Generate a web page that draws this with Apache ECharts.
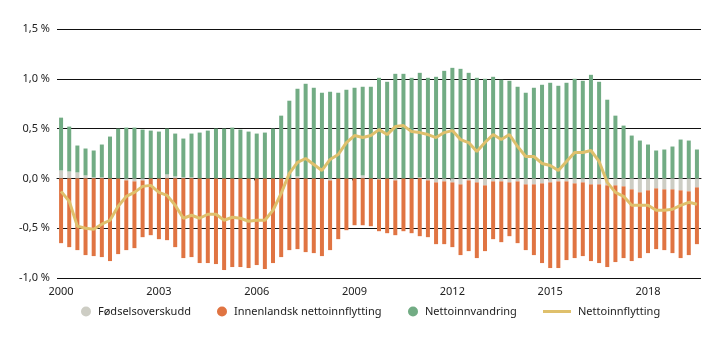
<!DOCTYPE html>
<html>
<head>
<meta charset="utf-8">
<script src="https://cdn.jsdelivr.net/npm/echarts@6/dist/echarts.min.js"></script>
<style>
html,body{margin:0;padding:0;background:#fff;}
#chart{width:719px;height:341px;}
</style>
</head>
<body>
<div id="chart"></div>
<script>
// Quarterly data 2000K1 – 2019K3, percent
const years = [2000,2001,2002,2003,2004,2005,2006,2007,2008,2009,2010,2011,2012,2013,2014,2015,2016,2017,2018,2019];
const quarters = [];
years.forEach(y => { for (let q = 1; q <= 4; q++) quarters.push(y + 'K' + q); });
quarters.length = 79;

const yearTicks = [2000, 2003, 2006, 2009, 2012, 2015, 2018];

const fodselsoverskudd = [0.08,0.07,0.06,0.03,0.01,0.01,0,0,-0.02,-0.03,-0.02,0,
 0,0.04,0.02,0.01,0.01,0,0,0,0,0,0,0,
 0,0,0,0,0,0.02,0,0,0,-0.02,0,0,
 0,0.03,0,-0.01,0,-0.02,0,0,0.01,-0.02,-0.04,-0.03,
 -0.04,-0.06,-0.02,-0.04,-0.07,-0.03,-0.03,-0.04,-0.03,-0.06,-0.06,-0.05,
 -0.04,-0.03,-0.03,-0.05,-0.04,-0.06,-0.06,-0.07,-0.07,-0.08,-0.11,-0.14,
 -0.12,-0.10,-0.11,-0.11,-0.12,-0.13,-0.09];

const innenlandsk = [-0.65,-0.69,-0.72,-0.77,-0.78,-0.79,-0.83,-0.76,-0.70,-0.67,-0.57,-0.57,
 -0.61,-0.62,-0.69,-0.80,-0.79,-0.85,-0.85,-0.86,-0.92,-0.89,-0.89,-0.90,
 -0.87,-0.91,-0.85,-0.79,-0.72,-0.71,-0.74,-0.75,-0.78,-0.70,-0.61,-0.52,
 -0.47,-0.47,-0.48,-0.52,-0.55,-0.55,-0.53,-0.55,-0.58,-0.57,-0.62,-0.63,
 -0.65,-0.71,-0.71,-0.76,-0.66,-0.58,-0.61,-0.54,-0.62,-0.66,-0.71,-0.80,
 -0.86,-0.87,-0.79,-0.75,-0.74,-0.77,-0.79,-0.82,-0.77,-0.72,-0.72,-0.66,
 -0.63,-0.61,-0.61,-0.64,-0.68,-0.64,-0.57];

const nettoinnvandring = [0.53,0.45,0.27,0.27,0.27,0.33,0.42,0.50,0.51,0.51,0.49,0.48,
 0.47,0.46,0.43,0.39,0.44,0.46,0.48,0.50,0.50,0.51,0.49,0.47,
 0.45,0.46,0.50,0.63,0.78,0.88,0.95,0.91,0.86,0.87,0.86,0.89,
 0.91,0.89,0.92,1.01,0.97,1.05,1.05,1.01,1.05,1.01,1.02,1.08,
 1.11,1.10,1.06,1.01,1.00,1.02,0.99,0.98,0.92,0.86,0.91,0.94,
 0.96,0.93,0.96,1.00,0.98,1.04,0.97,0.79,0.63,0.53,0.43,0.38,
 0.34,0.28,0.29,0.32,0.39,0.38,0.29];

const nettoinnflytting = [-0.13,-0.23,-0.48,-0.50,-0.51,-0.46,-0.42,-0.28,-0.18,-0.14,-0.08,-0.07,
 -0.14,-0.17,-0.27,-0.40,-0.37,-0.40,-0.36,-0.36,-0.42,-0.39,-0.40,-0.43,
 -0.42,-0.42,-0.32,-0.15,0.05,0.16,0.20,0.14,0.08,0.19,0.24,0.36,
 0.43,0.41,0.43,0.49,0.44,0.52,0.53,0.47,0.46,0.44,0.41,0.46,
 0.48,0.39,0.36,0.27,0.36,0.44,0.39,0.44,0.32,0.22,0.22,0.15,
 0.13,0.08,0.17,0.26,0.26,0.28,0.17,-0.04,-0.14,-0.18,-0.27,-0.27,
 -0.27,-0.32,-0.32,-0.31,-0.27,-0.24,-0.26];

const FONT = 'Noto Sans';
const TXT = '#222';
const C_GREY = '#CDCDC4', C_ORANGE = '#E07442', C_GREEN = '#72AC84', C_LINE = '#DFC06C';

const labelIdx = yearTicks.map(y => quarters.indexOf(y + 'K1'));
const tickVals = labelIdx.map(v => v - 0.25);

const legendText = {color: TXT, fontFamily: FONT, fontSize: 11, padding: [0, 0, 0, 2]};
function lg(name, left, extra) {
  return Object.assign({
    data: [name], left: left, top: 306, padding: 0, icon: 'circle',
    itemWidth: 10, itemHeight: 10, textStyle: legendText
  }, extra || {});
}

const chart = echarts.init(document.getElementById('chart'), null, {renderer: 'canvas'});
chart.setOption({
  animation: false,
  backgroundColor: '#fff',
  grid: {left: 57, right: 18, top: 29, bottom: 63, containLabel: false},
  xAxis: [{
    type: 'category', data: quarters, boundaryGap: true,
    axisLine: {show: false, onZero: false},
    axisTick: {show: false},
    splitLine: {show: false},
    axisLabel: {
      color: TXT, fontFamily: FONT, fontSize: 11, margin: 8,
      interval: (i) => labelIdx.indexOf(i) >= 0,
      formatter: v => v.slice(0, 4)
    }
  }, {
    type: 'value', min: -0.5, max: 78.5, position: 'bottom',
    axisLine: {show: true, onZero: true, lineStyle: {color: '#111', width: 1}},
    axisTick: {show: true, customValues: tickVals, length: 2, lineStyle: {color: '#111', width: 1}},
    axisLabel: {show: false},
    splitLine: {show: false}
  }],
  yAxis: {
    type: 'value', min: -1.0, max: 1.5, interval: 0.5,
    axisLine: {show: false}, axisTick: {show: false},
    splitLine: {lineStyle: {color: '#111', width: 1}},
    axisLabel: {
      color: TXT, fontFamily: FONT, fontSize: 11, margin: 7,
      formatter: v => v.toFixed(1).replace('.', ',') + ' %'
    }
  },
  legend: [
    lg('Fødselsoverskudd', 81),
    lg('Innenlandsk nettoinnflytting', 217),
    lg('Nettoinnvandring', 408),
    lg('Nettoinnflytting', 543, {icon: 'rect', itemWidth: 28, itemHeight: 3,
      data: [{name: 'Nettoinnflytting', icon: 'rect', itemStyle: {color: C_LINE}}]})
  ],
  series: [{
    name: 'Fødselsoverskudd', type: 'bar', stack: 'tot', barWidth: 4,
    itemStyle: {color: C_GREY}, data: fodselsoverskudd
  }, {
    name: 'Innenlandsk nettoinnflytting', type: 'bar', stack: 'tot', barWidth: 4,
    itemStyle: {color: C_ORANGE}, data: innenlandsk
  }, {
    name: 'Nettoinnvandring', type: 'bar', stack: 'tot', barWidth: 4,
    itemStyle: {color: C_GREEN}, data: nettoinnvandring
  }, {
    name: 'Nettoinnflytting', type: 'line', z: 5,
    showSymbol: false, symbol: 'none',
    lineStyle: {color: C_LINE, width: 3}, itemStyle: {color: C_LINE},
    data: nettoinnflytting
  }]
});
</script>
</body>
</html>
